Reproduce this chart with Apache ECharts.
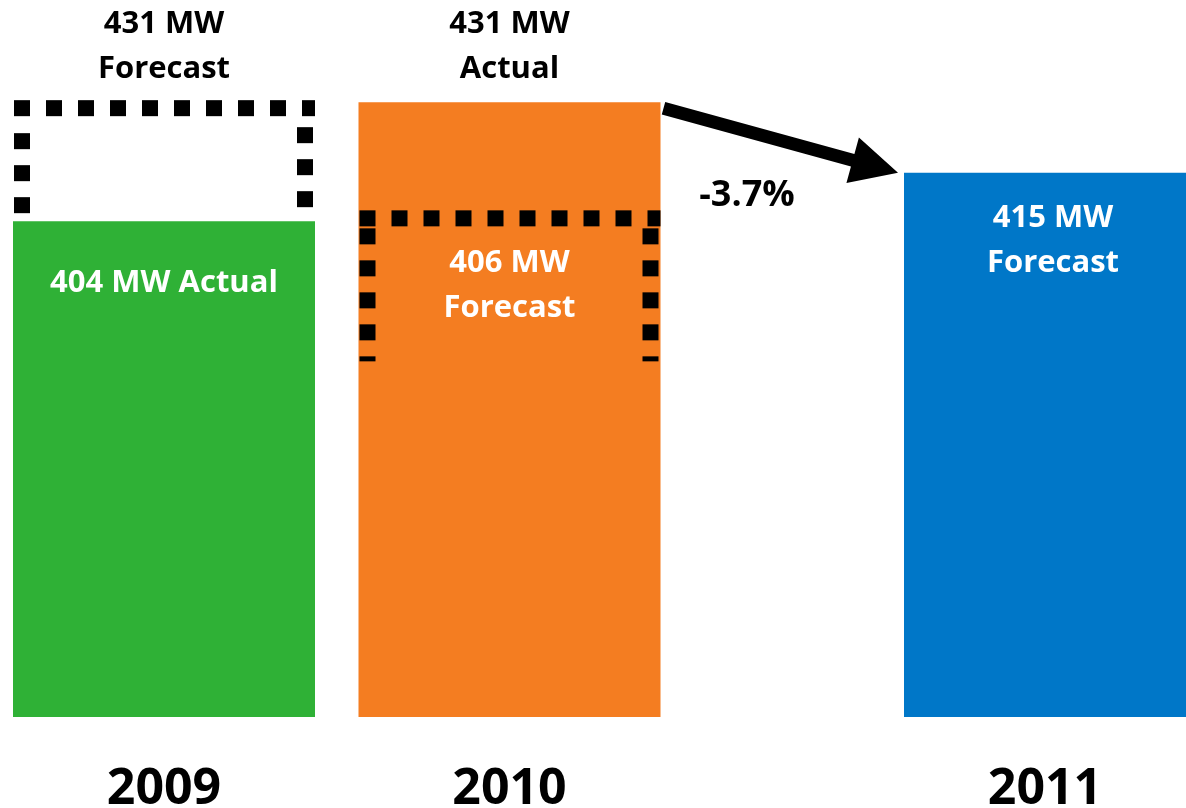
<!DOCTYPE html>
<html><head><meta charset="utf-8">
<script src="https://cdn.jsdelivr.net/npm/echarts@6/dist/echarts.min.js"></script>
<style>html,body{margin:0;padding:0;background:#fff}#c{width:1186px;height:808px}</style>
</head><body><div id="c"></div>
<script>
// ---- data ----
const actualYears = ['2009', '2010'];
const actualValues = [404, 431];
const forecastYears = ['2009', '2010'];
const forecastValues = [431, 406];
const nextYears = ['2011'];
const nextForecastValues = [415];
const unit = 'MW';

// ---- style ----
const FONT = "'Open Sans', 'Liberation Sans', sans-serif";
const COLORS = { '2009': '#2FB136', '2010': '#F47D21', '2011': '#0077C8' };
const BAR_W = 302;
const Y_MIN = 291.5, Y_MAX = 440;
const GRID_TOP = 62.5, GRID_BOTTOM = 91;
const LH = 45;
const boxDepth = [113, 143];
const sideGap = [[17, 11], [2, 2]];

const chart = echarts.init(document.getElementById('c'));

const yAxisCommon = { type: 'value', min: Y_MIN, max: Y_MAX, show: false, splitLine: { show: false } };
const xAxisCommon = {
  type: 'category',
  axisLine: { show: false }, axisTick: { show: false }, splitLine: { show: false },
  axisLabel: { interval: 0, margin: 48, fontSize: 50, fontWeight: 'bold', color: '#000', fontFamily: FONT }
};

const actualData = actualValues.map((v, i) => {
  const above = v > forecastValues[i];
  return {
    value: v,
    itemStyle: { color: COLORS[actualYears[i]] },
    label: above ? {
      show: true, position: 'top', distance: 10,
      formatter: v + ' ' + unit + '\nActual', color: '#000'
    } : {
      show: true, position: 'insideTop', distance: 40,
      formatter: v + ' ' + unit + ' Actual', color: '#fff'
    }
  };
});

const option = {
  animation: false,
  backgroundColor: '#fff',
  grid: [
    { left: -8.75, width: 691, top: GRID_TOP, bottom: GRID_BOTTOM, outerBoundsMode: 'none', containLabel: false },
    { left: 904, right: 0, top: GRID_TOP, bottom: GRID_BOTTOM, outerBoundsMode: 'none', containLabel: false }
  ],
  xAxis: [
    Object.assign({}, xAxisCommon, { gridIndex: 0, data: actualYears }),
    Object.assign({}, xAxisCommon, { gridIndex: 1, data: nextYears })
  ],
  yAxis: [
    Object.assign({}, yAxisCommon, { gridIndex: 0 }),
    Object.assign({}, yAxisCommon, { gridIndex: 1 })
  ],
  series: [
    {
      type: 'bar', xAxisIndex: 0, yAxisIndex: 0, barWidth: BAR_W, z: 2,
      label: { fontFamily: FONT, fontWeight: 'bold', fontSize: 31, lineHeight: LH },
      data: actualData
    },
    {
      type: 'bar', xAxisIndex: 1, yAxisIndex: 1, barWidth: '100%', z: 2,
      itemStyle: { color: COLORS['2011'] },
      label: {
        show: true, position: 'insideTop', distance: 23, offset: [8, 0],
        fontFamily: FONT, fontWeight: 'bold', fontSize: 31, lineHeight: LH, color: '#fff',
        formatter: p => p.value + ' ' + unit + '\nForecast'
      },
      data: nextForecastValues
    },
    {
      type: 'custom', xAxisIndex: 0, yAxisIndex: 0, z: 5,
      data: forecastValues.map((v, i) => [i, v]),
      renderItem: function (params, api) {
        const i = params.dataIndex;
        const v = api.value(1);
        const p = api.coord([api.value(0), v]);
        const xL = p[0] - BAR_W / 2, xR = p[0] + BAR_W / 2;
        const yc = p[1] + 6;
        const yEnd = yc + boxDepth[i];
        const st = { stroke: '#000', lineWidth: 16, lineDash: [16, 16], fill: null, lineCap: 'butt' };
        const children = [
          { type: 'line', shape: { x1: xL + 1, y1: yc, x2: xR, y2: yc }, style: st },
          { type: 'line', shape: { x1: xL + 9, y1: yc + 8 + sideGap[i][0], x2: xL + 9, y2: yEnd }, style: st },
          { type: 'line', shape: { x1: xR - 10, y1: yc + 8 + sideGap[i][1], x2: xR - 10, y2: yEnd }, style: st }
        ];
        const above = v > actualValues[i];
        children.push({
          type: 'text',
          style: {
            text: v + ' ' + unit + '\nForecast',
            x: p[0], y: above ? p[1] - 10 : p[1] + 73,
            align: 'center', verticalAlign: above ? 'bottom' : 'middle',
            fill: above ? '#000' : '#fff',
            font: 'bold 31px ' + FONT, lineHeight: LH
          }
        });
        return { type: 'group', children: children };
      }
    }
  ]
};
chart.setOption(option);

// arrow from 2010 actual to 2011 forecast, computed through the axes
const a = chart.convertToPixel({ gridIndex: 0 }, [1, actualValues[1]]);
const b = chart.convertToPixel({ gridIndex: 1 }, [0, nextForecastValues[0]]);
const blueW = chart.getWidth() - 904;
const S = [a[0] + BAR_W / 2 + 3, a[1] + 6];
const T = [b[0] - blueW / 2 - 6, b[1]];
const dx = T[0] - S[0], dy = T[1] - S[1];
const L = Math.sqrt(dx * dx + dy * dy);
const u = [dx / L, dy / L], n = [-u[1], u[0]];
const H = 47, HW = 23.5, SW = 6.5;
const B = [T[0] - u[0] * H, T[1] - u[1] * H];
const pt = (P, k) => [P[0] + n[0] * k, P[1] + n[1] * k];
const pct = ((nextForecastValues[0] - actualValues[1]) / actualValues[1] * 100).toFixed(1) + '%';

chart.setOption({
  graphic: [
    {
      type: 'polygon', z: 10,
      shape: { points: [pt(S, SW), pt(B, SW), pt(B, HW), T, pt(B, -HW), pt(B, -SW), pt(S, -SW)] },
      style: { fill: '#000' }
    },
    {
      type: 'text', z: 10,
      style: {
        text: pct, x: S[0] + 83.5, y: S[1] + 87.5, align: 'center', verticalAlign: 'middle',
        fill: '#000', font: 'bold 36px ' + FONT
      }
    }
  ]
});
</script>
</body></html>
